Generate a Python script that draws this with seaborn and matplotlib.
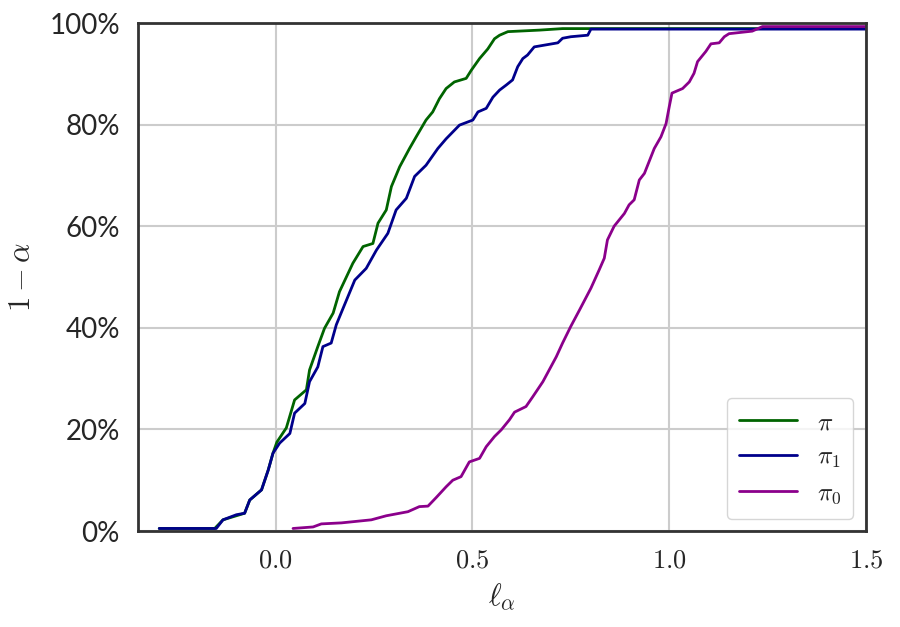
import pandas as pd
import matplotlib
matplotlib.use("Agg")
import matplotlib.pyplot as plt
import seaborn as sns
from matplotlib.ticker import FuncFormatter

# knots (x = l_alpha, y = 1 - alpha in %)
pi_x = [-0.296, -0.155, -0.134, -0.100, -0.079, -0.066, -0.036, -0.019, -0.007, 0.003,
        0.027, 0.048, 0.078, 0.086, 0.107, 0.124, 0.146, 0.162, 0.196, 0.222,
        0.247, 0.260, 0.281, 0.294, 0.315, 0.340, 0.357, 0.382, 0.399, 0.416,
        0.433, 0.454, 0.484, 0.497, 0.518, 0.539, 0.556, 0.569, 0.590, 0.670,
        0.729, 1.500]
pi_y = [0.5, 0.5, 2.2, 3.0, 3.5, 6.1, 8.1, 12.0, 15.3, 17.5,
        20.3, 25.8, 27.8, 31.7, 36.3, 39.9, 42.9, 47.1, 52.7, 56.0,
        56.6, 60.6, 63.2, 67.8, 71.7, 75.3, 77.6, 80.9, 82.5, 85.1,
        87.1, 88.4, 89.1, 90.7, 93.0, 94.9, 96.9, 97.6, 98.3, 98.6,
        98.9, 98.9]

pi1_x = [-0.296, -0.151, -0.134, -0.100, -0.079, -0.066, -0.036, -0.019, -0.007, 0.010,
         0.036, 0.048, 0.074, 0.086, 0.107, 0.120, 0.141, 0.154, 0.171, 0.201,
         0.230, 0.256, 0.285, 0.306, 0.332, 0.353, 0.382, 0.412, 0.433, 0.467,
         0.501, 0.514, 0.535, 0.552, 0.569, 0.586, 0.602, 0.615, 0.628, 0.640,
         0.657, 0.687, 0.717, 0.729, 0.750, 0.793, 0.801, 1.500]
pi1_y = [0.5, 0.5, 2.2, 3.2, 3.5, 6.1, 8.1, 12.0, 15.3, 17.3,
         19.2, 23.2, 25.1, 29.4, 32.3, 36.3, 37.0, 40.6, 43.8, 49.4,
         51.7, 55.3, 58.6, 63.2, 65.5, 69.8, 72.0, 75.3, 77.2, 79.9,
         80.9, 82.5, 83.2, 85.4, 86.8, 87.8, 88.8, 91.4, 93.0, 93.7,
         95.3, 95.7, 96.1, 97.0, 97.3, 97.6, 98.8, 98.8]

pi0_x = [0.044, 0.095, 0.116, 0.167, 0.243, 0.281, 0.336, 0.365, 0.387, 0.408,
         0.433, 0.450, 0.471, 0.492, 0.518, 0.535, 0.556, 0.573, 0.594, 0.607,
         0.636, 0.653, 0.679, 0.713, 0.729, 0.750, 0.772, 0.801, 0.822, 0.835,
         0.843, 0.860, 0.886, 0.898, 0.911, 0.924, 0.937, 0.962, 0.979, 0.992,
         1.000, 1.007, 1.034, 1.051, 1.063, 1.072, 1.093, 1.106, 1.127, 1.140,
         1.152, 1.211, 1.237, 1.500]
pi0_y = [0.5, 0.8, 1.4, 1.6, 2.2, 3.0, 3.8, 4.8, 4.9, 6.6,
         8.7, 10.0, 10.7, 13.6, 14.3, 16.6, 18.6, 19.9, 21.9, 23.4,
         24.5, 26.4, 29.4, 34.3, 37.0, 40.3, 43.5, 47.8, 51.4, 53.7,
         57.3, 60.0, 62.5, 64.2, 65.2, 69.1, 70.4, 75.3, 77.6, 80.2,
         83.5, 86.2, 87.1, 88.4, 90.1, 92.4, 94.4, 95.9, 96.1, 97.3,
         97.9, 98.4, 99.3, 99.3]

labels = [r"$\pi$", r"$\pi_1$", r"$\pi_0$"]
colors = ["darkgreen", "darkblue", "darkmagenta"]

df = pd.concat([
    pd.DataFrame({"x": pi_x, "y": pi_y, "series": labels[0]}),
    pd.DataFrame({"x": pi1_x, "y": pi1_y, "series": labels[1]}),
    pd.DataFrame({"x": pi0_x, "y": pi0_y, "series": labels[2]}),
], ignore_index=True)

sns.set_style("whitegrid", {"axes.edgecolor": ".2", "grid.color": ".8"})
plt.rcParams["mathtext.fontset"] = "cm"
plt.rcParams["font.family"] = ["Lato", "DejaVu Sans"]

fig, ax = plt.subplots(figsize=(9, 6.27), dpi=100)
fig.subplots_adjust(left=0.1533, right=0.9622, top=0.9633, bottom=0.1531)

sns.lineplot(data=df, x="x", y="y", hue="series", palette=colors,
             estimator=None, sort=False, linewidth=2, ax=ax)

ax.set_xlim(-0.35, 1.5)
ax.set_ylim(0, 100)
ax.set_xticks([0.0, 0.5, 1.0, 1.5])
ax.set_yticks([0, 20, 40, 60, 80, 100])
ax.xaxis.set_major_formatter(FuncFormatter(lambda v, p: f"${v:.1f}$"))
ax.yaxis.set_major_formatter(FuncFormatter(lambda v, p: f"{v:.0f}%"))
ax.tick_params(axis="x", labelsize=19, pad=12, length=0)
ax.tick_params(axis="y", labelsize=20, pad=13, length=0)
ax.grid(True, linewidth=1.5)

for s in ax.spines.values():
    s.set_visible(True)
    s.set_linewidth(2)

ax.set_xlabel(r"$\ell_\alpha$", fontsize=22, labelpad=6)
ax.set_ylabel(r"$1-\alpha$", fontsize=22, labelpad=10)

leg = ax.legend(loc="lower right", fontsize=18, frameon=True, fancybox=True,
                borderpad=0.5, labelspacing=0.45, handlelength=2.3)
leg.get_frame().set_edgecolor(".8")

fig.savefig("out.png", dpi=100)
